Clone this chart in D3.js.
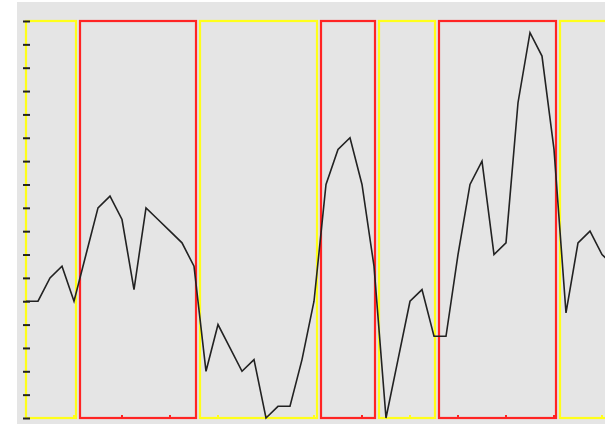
<!DOCTYPE html>
<html>
<head>
    <meta charset="utf-8">
    <title>Regime chart</title>
    <script src="https://d3js.org/d3.v7.min.js"></script>
    <style>
        html, body {
            margin: 0;
            background: white;
            overflow: hidden;
        }
    </style>
</head>
<body>
    <svg id="svg"></svg>
    <script>
        // series values, one per step
        const values = [5, 5, 6, 6.5, 5, 7, 9, 9.5, 8.5, 5.5,
            9, 8.5, 8, 7.5, 6.5, 2, 4, 3, 2, 2.5,
            0, 0.5, 0.5, 2.5, 5, 10, 11.5, 12, 10, 6.5,
            0, 2.5, 5, 5.5, 3.5, 3.5, 7, 10, 11, 7,
            7.5, 13.5, 16.5, 15.5, 11.5, 4.5, 7.5, 8, 7, 6.5];

        // regime boundaries (in steps) and state of each regime
        const boundaries = [0, 4.35, 14.35, 24.4, 29.25, 34.25, 44.3, 50];
        const states = ["low", "high", "low", "high", "low", "high", "low"];

        const yTicks = d3.range(0, 18, 1);
        const xTicks = d3.range(0, 49, 4);

        const width = 605;
        const height = 424;
        const margins = { top: 21, left: 26, bottom: 6 };
        const step = 12;

        const color = d3.scaleOrdinal()
            .domain(["low", "high"])
            .range(["#ffff1a", "#ff2424"]);

        const svg = d3.select("#svg")
            .attr("width", width)
            .attr("height", height);

        svg.append("rect")
            .attr("x", 17)
            .attr("y", 2)
            .attr("width", width - 17)
            .attr("height", height - 2)
            .attr("fill", "#e5e5e5");

        const x = d3.scaleLinear()
            .domain([0, values.length - 1])
            .range([margins.left, margins.left + step * (values.length - 1)]);

        const y = d3.scaleLinear()
            .domain([0, 17])
            .range([height - margins.bottom, margins.top]);

        // regime rectangles
        const regimes = states.map((s, i) => ({ state: s, start: boundaries[i], end: boundaries[i + 1], i }));

        svg.append("g")
            .selectAll("rect")
            .data(regimes)
            .enter()
            .append("rect")
            .attr("x", d => Math.round(x(d.start)) + (d.i > 0 ? 2 : 0))
            .attr("y", y(17))
            .attr("width", d => Math.round(x(d.end)) - Math.round(x(d.start)) - (d.i > 0 ? 4 : 2))
            .attr("height", y(0) - y(17))
            .attr("fill", "none")
            .attr("stroke", d => color(d.state))
            .attr("stroke-width", 2.2);

        // small ticks along the bottom, in the colour of the regime under them
        function stateAt(v) {
            const r = regimes.find(d => v >= d.start && v < d.end);
            return r ? r.state : "low";
        }

        svg.append("g")
            .selectAll("rect")
            .data(xTicks)
            .enter()
            .append("rect")
            .attr("x", d => x(d) - 1)
            .attr("y", y(0) - 3)
            .attr("width", 2)
            .attr("height", 3)
            .attr("fill", d => color(stateAt(d)));

        // left ticks, no labels
        const yAxisGroup = svg.append("g")
            .attr("transform", `translate(${margins.left + 4}, 0)`)
            .call(d3.axisLeft(y).tickValues(yTicks).tickSize(7).tickFormat(""));

        yAxisGroup.select(".domain").remove();
        yAxisGroup.selectAll("line")
            .attr("stroke", "#222")
            .attr("stroke-width", 2);

        const line = d3.line()
            .x((d, i) => x(i))
            .y(d => y(d));

        svg.append("path")
            .datum(values)
            .attr("fill", "none")
            .attr("stroke", "#222")
            .attr("stroke-width", 1.6)
            .attr("d", line);
    </script>
</body>
</html>
